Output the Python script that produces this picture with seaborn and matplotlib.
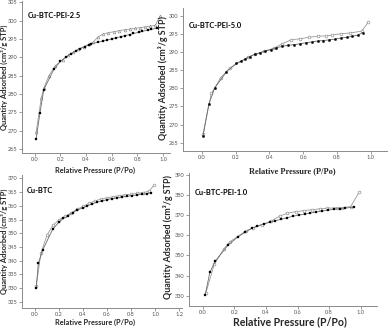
import matplotlib
matplotlib.use("Agg")
import matplotlib.pyplot as plt
import seaborn as sns
import pandas as pd

sns.set_style("ticks")
plt.rcParams['font.family'] = ['Lato', 'DejaVu Sans']

# ---------------- data ----------------
# Panel 1: Cu-BTC-PEI-2.5
p1_ads_p = [0.01, 0.04, 0.07, 0.15, 0.20, 0.24, 0.28, 0.32, 0.35, 0.39, 0.42, 0.44, 0.49, 0.53,
            0.56, 0.60, 0.63, 0.67, 0.70, 0.74, 0.77, 0.81, 0.84, 0.88, 0.91, 0.95]
p1_ads_q = [267.7, 274.8, 281.2, 286.8, 288.9, 290.0, 290.9, 291.7, 292.3, 292.9, 293.4, 293.7, 294.1, 294.4,
            294.7, 295.0, 295.3, 295.6, 295.9, 296.2, 296.5, 296.8, 297.1, 297.4, 297.6, 298.0]
p1_des_p = [0.98, 0.94, 0.90, 0.86, 0.82, 0.78, 0.74, 0.70, 0.66, 0.62, 0.57, 0.53, 0.49, 0.455,
            0.42, 0.38, 0.34, 0.30, 0.26, 0.22, 0.16, 0.11, 0.07, 0.05, 0.01]
p1_des_q = [301.4, 298.7, 298.5, 298.3, 298.1, 297.9, 297.7, 297.5, 297.3, 297.0, 296.7, 296.3, 295.5, 294.1,
            293.5, 292.9, 292.2, 291.4, 290.5, 289.4, 287.7, 285.0, 281.6, 278.8, 269.5]

# Panel 2: Cu-BTC-PEI-5.0
p2_ads_p = [0.006, 0.04, 0.075, 0.145, 0.204, 0.23, 0.257, 0.283, 0.313, 0.343, 0.376, 0.41, 0.44, 0.475,
            0.51, 0.547, 0.58, 0.614, 0.65, 0.685, 0.72, 0.752, 0.788, 0.822, 0.857, 0.89, 0.923, 0.952]
p2_ads_q = [266.9, 275.6, 280.1, 284.6, 286.9, 287.5, 288.1, 288.8, 289.4, 289.8, 290.3, 290.7, 291.2, 291.6,
            291.9, 292.1, 292.3, 292.6, 292.8, 293.1, 293.2, 293.4, 293.6, 293.9, 294.1, 294.4, 294.7, 295.4]
p2_des_p = [0.986, 0.947, 0.877, 0.822, 0.768, 0.733, 0.685, 0.634, 0.58, 0.527, 0.475, 0.426, 0.368,
            0.313, 0.27, 0.164, 0.11, 0.055, 0.006]
p2_des_q = [298.3, 295.8, 295.3, 295.1, 294.7, 294.5, 294.4, 294.1, 293.7, 293.4, 292.3, 291.1, 290.3,
            289.4, 288.6, 285.6, 282.9, 278.6, 267.5]

# Panel 3: Cu-BTC
p3_ads_p = [0.01, 0.028, 0.064, 0.147, 0.203, 0.236, 0.278, 0.314, 0.353, 0.397, 0.436, 0.472, 0.514,
            0.556, 0.597, 0.639, 0.681, 0.722, 0.764, 0.806, 0.847, 0.889, 0.93, 0.965]
p3_ads_q = [329.9, 339.0, 343.9, 351.4, 354.2, 355.4, 356.4, 357.5, 358.5, 359.2, 360.0, 360.6, 361.3,
            361.7, 362.2, 362.6, 362.9, 363.2, 363.4, 363.7, 363.9, 364.2, 364.4, 364.8]
p3_des_p = [0.99, 0.95, 0.90, 0.85, 0.80, 0.75, 0.70, 0.65, 0.60, 0.55, 0.50, 0.45, 0.40, 0.35, 0.30,
            0.25, 0.20, 0.15, 0.10, 0.05, 0.01]
p3_des_q = [367.4, 365.3, 364.8, 364.5, 364.2, 364.0, 363.7, 363.3, 362.9, 362.4, 361.8, 360.9, 359.8,
            358.7, 357.4, 356.1, 354.9, 352.9, 349.3, 342.8, 330.8]

# Panel 4: Cu-BTC-PEI-1.0
p4_ads_p = [0.015, 0.045, 0.08, 0.16, 0.225, 0.268, 0.31, 0.346, 0.385, 0.424, 0.46, 0.496, 0.534, 0.571,
            0.608, 0.645, 0.682, 0.718, 0.756, 0.792, 0.83, 0.866, 0.903, 0.957]
p4_ads_q = [330.3, 341.6, 347.3, 355.2, 359.4, 361.5, 363.5, 364.7, 365.7, 366.5, 367.3, 368.0, 368.8,
            369.5, 370.1, 370.6, 371.1, 371.6, 372.1, 372.5, 373.0, 373.3, 373.6, 374.0]
p4_des_p = [0.99, 0.936, 0.883, 0.848, 0.789, 0.743, 0.693, 0.641, 0.589, 0.536, 0.49, 0.435, 0.378,
            0.321, 0.273, 0.173, 0.133, 0.073, 0.02]
p4_des_q = [381.4, 374.3, 373.8, 373.7, 373.5, 373.2, 372.8, 372.3, 371.8, 371.0, 369.7, 367.2, 365.2,
            363.8, 362.2, 356.9, 353.2, 345.6, 331.5]

titles = ["Cu-BTC-PEI-2.5", "Cu-BTC-PEI-5.0", "Cu-BTC", "Cu-BTC-PEI-1.0"]
ylabel = "Quantity Adsorbed (cm³/g STP)"
xlabel = "Relative Pressure (P/Po)"

# ---------------- figure ----------------
W, H = 389, 329
fig = plt.figure(figsize=(W / 100, H / 100), dpi=100)


def box(l, r, t, b):
    return [l / W, 1 - b / H, (r - l) / W, (b - t) / H]


panels = [
    dict(rect=box(22, 170, 0.5, 153), xlim=(-0.1, 1.055), ylim=(263.9, 305.5),
         xt=[0, 0.2, 0.4, 0.6, 0.8, 1.0], yt=list(range(265, 306, 5)),
         ads=(p1_ads_p, p1_ads_q), des=(p1_des_p, p1_des_q), am='s', dm='^',
         title=(0.04, 0.90)),
    dict(rect=box(183, 387, 8, 151), xlim=(-0.113, 1.097), ylim=(262.7, 302.2),
         xt=[0, 0.2, 0.4, 0.6, 0.8, 1.0], yt=list(range(265, 301, 5)),
         ads=(p2_ads_p, p2_ads_q), des=(p2_des_p, p2_des_q), am='o', dm='o',
         title=(0.03, 0.88)),
    dict(rect=box(22, 182, 175, 308), xlim=(-0.108, 1.225), ylim=(322.8, 371.2),
         xt=[0, 0.2, 0.4, 0.6, 0.8, 1.0, 1.2], yt=list(range(325, 371, 5)),
         ads=(p3_ads_p, p3_ads_q), des=(p3_des_p, p3_des_q), am='s', dm='o',
         title=(0.03, 0.88)),
    dict(rect=box(189, 377, 173, 306), xlim=(-0.087, 1.103), ylim=(324.9, 391.0),
         xt=[0, 0.2, 0.4, 0.6, 0.8, 1.0], yt=list(range(330, 391, 10)),
         ads=(p4_ads_p, p4_ads_q), des=(p4_des_p, p4_des_q), am='s', dm='o',
         title=(0.03, 0.85)),
]

spine_col = "#8a8a8a"
for i, pn in enumerate(panels):
    ax = fig.add_axes(pn['rect'])
    dfa = pd.DataFrame({"P": pn['ads'][0], "Q": pn['ads'][1]})
    dfd = pd.DataFrame({"P": pn['des'][0], "Q": pn['des'][1]})
    sns.lineplot(data=dfd, x="P", y="Q", ax=ax, color="#9a9a9a", lw=0.6, sort=False,
                 marker=pn['dm'], markersize=2.0, markerfacecolor="white",
                 markeredgecolor="#8a8a8a", markeredgewidth=0.45)
    sns.lineplot(data=dfa, x="P", y="Q", ax=ax, color="#6a6a6a", lw=0.6, sort=False,
                 marker=pn['am'], markersize=1.7, markerfacecolor="black",
                 markeredgecolor="black", markeredgewidth=0.2)
    ax.set_xlim(*pn['xlim'])
    ax.set_ylim(*pn['ylim'])
    ax.set_xticks(pn['xt'])
    ax.set_xticklabels([f"{v:.1f}" for v in pn['xt']])
    ax.set_yticks(pn['yt'])
    ax.set_xlabel("")
    ax.set_ylabel("")
    ax.patch.set_alpha(0)
    for s in ['top', 'right']:
        ax.spines[s].set_visible(False)
    for s in ['left', 'bottom']:
        ax.spines[s].set_color(spine_col)
        ax.spines[s].set_linewidth(0.7)
    ax.tick_params(axis='both', labelsize=4.1, colors=spine_col, labelcolor="#555555",
                   length=2, width=0.6, pad=1.2)
    ax.text(pn['title'][0], pn['title'][1], titles[i], transform=ax.transAxes,
            fontsize=5.4, fontweight='bold', color='black', ha='left', va='center')

# y labels
fig.text(4.5 / W, 1 - 77 / H, ylabel, rotation=90, ha='center', va='center',
         fontsize=5.4, fontweight='bold')
fig.text(163 / W, 1 - 78 / H, ylabel, rotation=90, ha='center', va='center',
         fontsize=6.4, fontweight='bold')
fig.text(4.5 / W, 1 - 241 / H, ylabel, rotation=90, ha='center', va='center',
         fontsize=5.4, fontweight='bold')
fig.text(168 / W, 1 - 237 / H, ylabel, rotation=90, ha='center', va='center',
         fontsize=6.4, fontweight='bold')

# x labels
fig.text(95 / W, 1 - 170 / H, xlabel, ha='center', va='center', fontsize=5.3, fontweight='bold')
fig.text(292 / W, 1 - 171 / H, xlabel, ha='center', va='center', fontsize=6.0, fontweight='bold',
         family=['Liberation Serif', 'DejaVu Serif'])
fig.text(95 / W, 1 - 322 / H, xlabel, ha='center', va='center', fontsize=5.3, fontweight='bold')
fig.text(290 / W, 1 - 322 / H, xlabel, ha='center', va='center', fontsize=7.6, fontweight='bold')

fig.savefig("out.png", dpi=100)
